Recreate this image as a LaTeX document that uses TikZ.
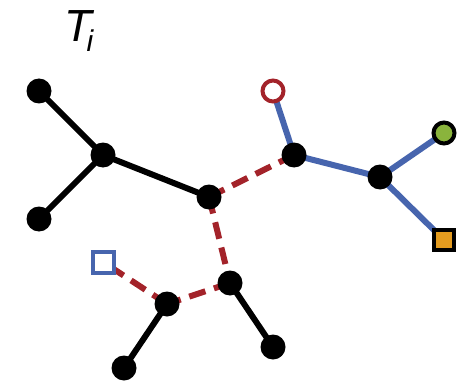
\documentclass[tikz,border=0pt]{standalone}
\usepackage{fontspec}
\setmainfont{Liberation Sans}
\definecolor{tred}{HTML}{A3232A}
\definecolor{tblue}{HTML}{4765AE}
\definecolor{tgreen}{HTML}{8AB43C}
\definecolor{torange}{HTML}{E39B1F}
\begin{document}
\begin{tikzpicture}[x=1pt,y=-1pt,
  dot/.style={circle,fill=black,inner sep=0pt,minimum size=25pt},
  opendot/.style={circle,draw=tred,fill=white,line width=4pt,inner sep=0pt,minimum size=21pt},
  greendot/.style={circle,draw=black,fill=tgreen,line width=4pt,inner sep=0pt,minimum size=21pt},
  orsq/.style={rectangle,draw=black,fill=torange,line width=4pt,inner sep=0pt,minimum size=20pt},
  bluesq/.style={rectangle,draw=tblue,fill=white,line width=4pt,inner sep=0pt,minimum size=21pt},
  bedge/.style={line width=6pt,black},
  bluedge/.style={line width=6pt,tblue},
  redge/.style={line width=6pt,tred,dash pattern=on 17pt off 9pt}]
\useasboundingbox (0,0) rectangle (462,382);
\node[font=\fontsize{45}{48}\selectfont\itshape,anchor=base west,inner sep=0pt] (T) at (64,42) {T\kern-5pt\raisebox{-10pt}{\fontsize{30}{32}\selectfont i}};
\coordinate (A) at (39,91);
\coordinate (B) at (103,155);
\coordinate (C) at (39,219);
\coordinate (D) at (209,197);
\coordinate (E) at (294,155);
\coordinate (F) at (273,91);
\coordinate (G) at (380,177);
\coordinate (H) at (444,133);
\coordinate (I) at (444,240);
\coordinate (J) at (230,283);
\coordinate (K) at (167,304);
\coordinate (L) at (103,262);
\coordinate (M) at (124,368);
\coordinate (N) at (273,347);
\draw[bedge] (A) -- (B);
\draw[bedge] (C) -- (B);
\draw[bedge] (B) -- (D);
\draw[bedge] (K) -- (M);
\draw[bedge] (J) -- (N);
\draw[bluedge] (E) -- (F);
\draw[bluedge] (E) -- (G);
\draw[bluedge] (G) -- (H);
\draw[bluedge] (G) -- (I);
\draw[redge] (D) -- (E);
\draw[redge] (D) -- (J);
\draw[redge] (J) -- (K);
\draw[redge] (K) -- (L);
\node[dot] (nA) at (A) {};
\node[dot] (nB) at (B) {};
\node[dot] (nC) at (C) {};
\node[dot] (nD) at (D) {};
\node[dot] (nE) at (E) {};
\node[opendot] (nF) at (F) {};
\node[dot] (nG) at (G) {};
\node[greendot] (nH) at (H) {};
\node[orsq] (nI) at (I) {};
\node[dot] (nJ) at (J) {};
\node[dot] (nK) at (K) {};
\node[bluesq] (nL) at (L) {};
\node[dot] (nM) at (M) {};
\node[dot] (nN) at (N) {};
\end{tikzpicture}
\end{document}
